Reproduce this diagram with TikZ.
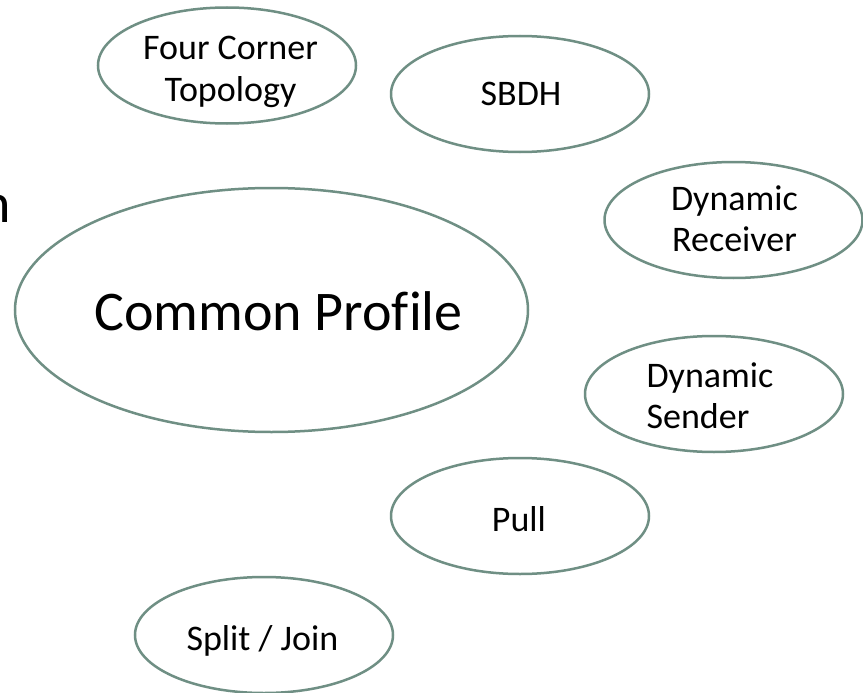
\documentclass[tikz,border=0pt]{standalone}
\usepackage{fontspec}
\setmainfont{Carlito}
\usetikzlibrary{shapes.geometric}
\definecolor{edge}{HTML}{6F8F84}
\tikzset{
  x=1pt,y=-1pt,
  oval/.style={draw=edge,line width=2.5pt,ellipse,inner sep=0pt,minimum width=258pt,minimum height=116pt},
  big/.style={oval,minimum width=513pt,minimum height=244pt},
  label/.style={inner sep=0pt,align=center,text=black,font=\fontsize{36}{41.5}\selectfont},
  biglabel/.style={label,font=\fontsize{56}{60}\selectfont}
}
\begin{document}
\begin{tikzpicture}
\useasboundingbox (0,0) rectangle (863,693);
\fill[white] (0,0) rectangle (863,693);
\node[oval] (fc) at (227,65.5) {};
\node[oval] (sbdh) at (520,94) {};
\node[oval] (dr) at (733.5,220) {};
\node[big] (cp) at (271.5,310) {};
\node[oval] (ds) at (714,394) {};
\node[oval] (pull) at (520,516) {};
\node[oval] (sj) at (264,635) {};
\node[label] (fct) at (230.5,72) {Four Corner\\Topology};
\node[label] (sbdht) at (521,94) {SBDH};
\node[label] (drt) at (734.5,218.5) {Dynamic\\Receiver};
\node[biglabel] (cpt) at (278.5,311) {Common Prof\kern0pt ile};
\node[label,align=left] (dst) at (710,395.5) {Dynamic\\Sender};
\node[label] (pullt) at (519,519) {Pull};
\node[label] (sjt) at (262.5,641) {Split / Join};
\node[biglabel,anchor=base west] (frag) at (-19,222) {n};
\end{tikzpicture}
\end{document}
